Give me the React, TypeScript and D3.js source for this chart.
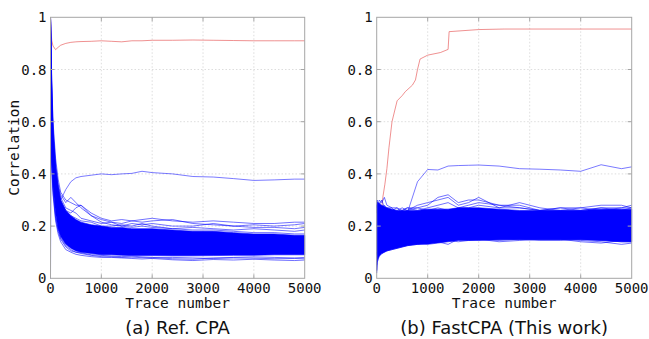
import * as React from 'react'
import * as d3 from 'd3'

// sample trace counts shared by the series below
const traces = [0, 10, 25, 50, 100, 150, 200, 300, 400, 500, 600, 800, 1000, 1200, 1400, 1600, 1800, 2000, 2400, 2800, 3200, 3600, 4000, 4400, 4800, 5000]

const xTicks = [0, 1000, 2000, 3000, 4000, 5000]
const yTicks = [0, 0.2, 0.4, 0.6, 0.8, 1]
const yTickLabels = ['0', '0.2', '0.4', '0.6', '0.8', '1']

// (a) Ref. CPA
const refCorrect = [1, 0.95, 0.91, 0.89, 0.876, 0.885, 0.893, 0.9, 0.904, 0.906, 0.907, 0.908, 0.91, 0.908, 0.906, 0.91, 0.91, 0.912, 0.912, 0.913, 0.912, 0.911, 0.91, 0.91, 0.91, 0.91]
const refSecond = [1, 0.9, 0.72, 0.55, 0.4, 0.33, 0.3, 0.34, 0.37, 0.385, 0.39, 0.395, 0.4, 0.397, 0.4, 0.402, 0.41, 0.405, 0.4, 0.39, 0.388, 0.382, 0.375, 0.377, 0.38, 0.38]
const refBandTop = [1, 0.85, 0.7, 0.55, 0.42, 0.35, 0.3, 0.26, 0.24, 0.225, 0.215, 0.205, 0.2, 0.195, 0.195, 0.19, 0.19, 0.19, 0.185, 0.18, 0.18, 0.175, 0.17, 0.17, 0.165, 0.165]
const refBandBottom = [0, 0.55, 0.45, 0.35, 0.25, 0.19, 0.16, 0.13, 0.115, 0.105, 0.1, 0.095, 0.09, 0.09, 0.088, 0.087, 0.087, 0.087, 0.086, 0.086, 0.087, 0.088, 0.088, 0.09, 0.09, 0.09]
const refWrong = [
  [1, 0.9, 0.76, 0.6, 0.46, 0.38, 0.33, 0.3, 0.29, 0.28, 0.28, 0.25, 0.23, 0.22, 0.225, 0.22, 0.225, 0.23, 0.22, 0.215, 0.22, 0.215, 0.21, 0.21, 0.215, 0.215],
  [1, 0.88, 0.74, 0.58, 0.44, 0.36, 0.32, 0.29, 0.31, 0.29, 0.27, 0.24, 0.225, 0.215, 0.21, 0.22, 0.215, 0.22, 0.225, 0.21, 0.205, 0.2, 0.205, 0.2, 0.205, 0.21],
  [1, 0.86, 0.7, 0.55, 0.42, 0.35, 0.31, 0.27, 0.26, 0.25, 0.23, 0.22, 0.21, 0.215, 0.2, 0.21, 0.205, 0.21, 0.2, 0.2, 0.21, 0.2, 0.195, 0.195, 0.19, 0.195],
  [1, 0.84, 0.68, 0.53, 0.4, 0.33, 0.29, 0.26, 0.24, 0.23, 0.22, 0.215, 0.2, 0.2, 0.205, 0.2, 0.21, 0.2, 0.19, 0.195, 0.19, 0.185, 0.19, 0.185, 0.18, 0.185],
  [1, 0.85, 0.7, 0.56, 0.43, 0.35, 0.3, 0.26, 0.25, 0.27, 0.28, 0.24, 0.215, 0.205, 0.2, 0.195, 0.2, 0.195, 0.19, 0.185, 0.185, 0.18, 0.175, 0.175, 0.17, 0.17],
  [1, 0.5, 0.42, 0.32, 0.22, 0.17, 0.14, 0.11, 0.1, 0.092, 0.088, 0.083, 0.08, 0.08, 0.078, 0.076, 0.074, 0.076, 0.071, 0.068, 0.072, 0.07, 0.073, 0.07, 0.068, 0.07],
  [1, 0.52, 0.44, 0.33, 0.23, 0.18, 0.15, 0.12, 0.105, 0.1, 0.095, 0.088, 0.083, 0.082, 0.08, 0.081, 0.079, 0.078, 0.08, 0.078, 0.076, 0.078, 0.077, 0.075, 0.076, 0.075],
  [1, 0.55, 0.46, 0.35, 0.24, 0.19, 0.155, 0.125, 0.11, 0.1, 0.098, 0.09, 0.088, 0.085, 0.083, 0.085, 0.082, 0.08, 0.075, 0.073, 0.078, 0.08, 0.082, 0.08, 0.078, 0.08],
  [1, 0.7, 0.58, 0.45, 0.33, 0.26, 0.22, 0.19, 0.17, 0.16, 0.155, 0.15, 0.145, 0.145, 0.14, 0.145, 0.14, 0.14, 0.135, 0.135, 0.13, 0.13, 0.13, 0.125, 0.125, 0.125],
  [1, 0.78, 0.64, 0.5, 0.37, 0.3, 0.26, 0.22, 0.2, 0.19, 0.185, 0.18, 0.17, 0.175, 0.17, 0.175, 0.17, 0.165, 0.165, 0.16, 0.16, 0.155, 0.155, 0.15, 0.15, 0.15],
]

// (b) FastCPA
const fastCorrectTraces = [0, 50, 100, 120, 160, 200, 240, 300, 400, 500, 560, 700, 760, 800, 850, 1000, 1250, 1400, 1420, 2000, 2500, 5000]
const fastCorrect = [0.2, 0.22, 0.27, 0.31, 0.36, 0.42, 0.5, 0.6, 0.68, 0.7, 0.715, 0.74, 0.76, 0.8, 0.84, 0.855, 0.865, 0.877, 0.945, 0.953, 0.955, 0.955]
const fastSecond = [0.2, 0.22, 0.2, 0.21, 0.22, 0.2, 0.21, 0.22, 0.22, 0.23, 0.25, 0.37, 0.417, 0.415, 0.43, 0.432, 0.433, 0.434, 0.43, 0.42, 0.418, 0.415, 0.41, 0.435, 0.42, 0.427]
const fastBandTop = [0.28, 0.29, 0.29, 0.285, 0.28, 0.275, 0.27, 0.265, 0.26, 0.26, 0.26, 0.26, 0.265, 0.265, 0.265, 0.27, 0.27, 0.27, 0.265, 0.26, 0.26, 0.26, 0.26, 0.265, 0.265, 0.265]
const fastBandBottom = [0.03, 0.06, 0.075, 0.085, 0.095, 0.1, 0.105, 0.11, 0.115, 0.12, 0.125, 0.13, 0.13, 0.135, 0.14, 0.145, 0.145, 0.145, 0.148, 0.148, 0.148, 0.148, 0.148, 0.145, 0.14, 0.14]
const fastWrong = [
  [0.27, 0.29, 0.28, 0.27, 0.26, 0.27, 0.25, 0.26, 0.27, 0.25, 0.26, 0.27, 0.28, 0.31, 0.32, 0.29, 0.3, 0.3, 0.28, 0.27, 0.26, 0.27, 0.26, 0.27, 0.27, 0.27],
  [0.28, 0.27, 0.29, 0.28, 0.3, 0.27, 0.26, 0.25, 0.26, 0.27, 0.26, 0.28, 0.29, 0.3, 0.31, 0.28, 0.29, 0.31, 0.27, 0.29, 0.27, 0.26, 0.27, 0.28, 0.28, 0.27],
  [0.25, 0.28, 0.27, 0.29, 0.26, 0.28, 0.27, 0.27, 0.25, 0.26, 0.27, 0.26, 0.27, 0.28, 0.29, 0.27, 0.28, 0.29, 0.28, 0.28, 0.26, 0.27, 0.27, 0.26, 0.27, 0.28],
  [0.05, 0.07, 0.08, 0.09, 0.1, 0.11, 0.11, 0.12, 0.12, 0.13, 0.13, 0.13, 0.14, 0.14, 0.13, 0.15, 0.15, 0.15, 0.15, 0.155, 0.15, 0.15, 0.145, 0.14, 0.13, 0.135],
  [0.02, 0.06, 0.07, 0.085, 0.095, 0.1, 0.105, 0.11, 0.115, 0.12, 0.125, 0.13, 0.135, 0.14, 0.145, 0.14, 0.145, 0.15, 0.145, 0.15, 0.145, 0.145, 0.15, 0.145, 0.14, 0.14],
  [0.1, 0.09, 0.1, 0.11, 0.12, 0.12, 0.125, 0.12, 0.13, 0.13, 0.135, 0.14, 0.14, 0.15, 0.145, 0.15, 0.15, 0.15, 0.14, 0.145, 0.15, 0.15, 0.14, 0.135, 0.145, 0.14],
  [0.29, 0.3, 0.28, 0.3, 0.29, 0.31, 0.28, 0.27, 0.27, 0.26, 0.27, 0.27, 0.26, 0.27, 0.26, 0.27, 0.27, 0.28, 0.27, 0.27, 0.26, 0.26, 0.26, 0.27, 0.26, 0.27],
]

const MONO = '"DejaVu Sans Mono", monospace'
const SANS = '"DejaVu Sans", sans-serif'
const BLUE = '#0000ff'
const RED = '#e23a3a'

const plotTop = 17.3
const plotBottom = 278.3

interface PanelProps {
  left: number
  right: number
  caption: string
  showYLabel: boolean
  correctX: number[]
  correct: number[]
  second: number[]
  bandTop: number[]
  bandBottom: number[]
  wrong: number[][]
}

function Panel({ left, right, caption, showYLabel, correctX, correct, second, bandTop, bandBottom, wrong }: PanelProps) {
  const x = d3.scaleLinear().domain([0, 5000]).range([left, right])
  const y = d3.scaleLinear().domain([0, 1]).range([plotBottom, plotTop])

  const line = d3.line<number>()
    .x((_, i) => x(traces[i]))
    .y(d => y(d))

  const correctLine = d3.line<number>()
    .x((_, i) => x(correctX[i]))
    .y(d => y(d))

  const band = d3.area<number>()
    .x((_, i) => x(traces[i]))
    .y0((_, i) => y(bandBottom[i]))
    .y1(d => y(d))

  const cx = (left + right) / 2

  return (
    <g>
      {/* grid */}
      {xTicks.slice(1, -1).map(t => (
        <line key={'gx' + t} x1={x(t)} x2={x(t)} y1={plotTop} y2={plotBottom}
          stroke="#d4d4d4" strokeWidth={0.8} strokeDasharray="1.5,2" />
      ))}
      {yTicks.slice(1, -1).map(t => (
        <line key={'gy' + t} x1={left} x2={right} y1={y(t)} y2={y(t)}
          stroke="#d4d4d4" strokeWidth={0.8} strokeDasharray="1.5,2" />
      ))}

      {/* correct key */}
      <path d={correctLine(correct) ?? ''} fill="none" stroke={RED} strokeWidth={0.8} strokeOpacity={0.7} />

      {/* wrong keys */}
      <path d={band(bandTop) ?? ''} fill={BLUE} stroke={BLUE} strokeWidth={0.6} />
      {wrong.map((w, i) => (
        <path key={i} d={line(w) ?? ''} fill="none" stroke={BLUE} strokeWidth={0.7} strokeOpacity={0.8} />
      ))}
      <path d={line(second) ?? ''} fill="none" stroke={BLUE} strokeWidth={0.7} strokeOpacity={0.75} />

      {/* frame */}
      <rect x={left} y={plotTop} width={right - left} height={plotBottom - plotTop}
        fill="none" stroke="#a6a6a6" strokeWidth={1} />
      {xTicks.slice(1, -1).map(t => (
        <g key={'tx' + t}>
          <line x1={x(t)} x2={x(t)} y1={plotBottom} y2={plotBottom - 4} stroke="#a6a6a6" />
          <line x1={x(t)} x2={x(t)} y1={plotTop} y2={plotTop + 4} stroke="#a6a6a6" />
        </g>
      ))}
      {yTicks.slice(1, -1).map(t => (
        <g key={'ty' + t}>
          <line x1={left} x2={left + 4} y1={y(t)} y2={y(t)} stroke="#a6a6a6" />
          <line x1={right} x2={right - 4} y1={y(t)} y2={y(t)} stroke="#a6a6a6" />
        </g>
      ))}

      {/* tick labels */}
      {yTicks.map((t, i) => (
        <text key={'ly' + t} x={left - 4} y={y(t)} dy="0.36em" textAnchor="end"
          fontFamily={MONO} fontSize={14} fill="#111">{yTickLabels[i]}</text>
      ))}
      {xTicks.map(t => (
        <text key={'lx' + t} x={x(t)} y={293} textAnchor="middle"
          fontFamily={MONO} fontSize={14} fill="#111">{t}</text>
      ))}
      <text x={cx} y={308} textAnchor="middle" fontFamily={MONO} fontSize={14.5} fill="#111">Trace number</text>
      {showYLabel && (
        <text transform={`translate(19, ${(plotTop + plotBottom) / 2}) rotate(-90)`} textAnchor="middle"
          fontFamily={MONO} fontSize={14.5} fill="#111">Correlation</text>
      )}
      <text x={cx} y={334} textAnchor="middle" fontFamily={SANS} fontSize={18} fill="#111">{caption}</text>
    </g>
  )
}

export default function App() {
  return (
    <div style={{ position: 'fixed', left: 0, top: 0 }}>
      <svg width={649} height={339} style={{ display: 'block', background: '#fff' }}>
        <Panel left={50.5} right={304.7} caption="(a) Ref. CPA" showYLabel
          correctX={traces} correct={refCorrect} second={refSecond}
          bandTop={refBandTop} bandBottom={refBandBottom} wrong={refWrong} />
        <Panel left={376.7} right={631.7} caption="(b) FastCPA (This work)" showYLabel={false}
          correctX={fastCorrectTraces} correct={fastCorrect} second={fastSecond}
          bandTop={fastBandTop} bandBottom={fastBandBottom} wrong={fastWrong} />
      </svg>
    </div>
  )
}
